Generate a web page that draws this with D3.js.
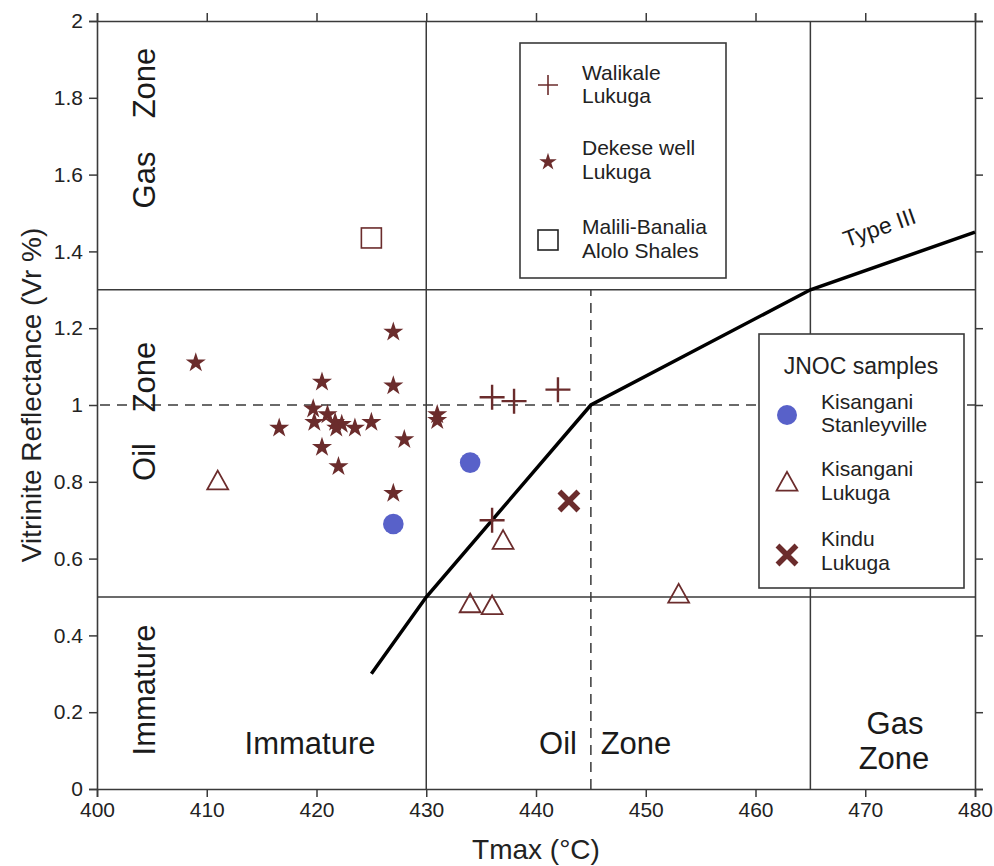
<!DOCTYPE html>
<html><head><meta charset="utf-8">
<script src="https://cdn.jsdelivr.net/npm/d3@7"></script>
<style>
body{margin:0;background:#fff;}
svg{display:block;font-family:"Liberation Sans",Arial,sans-serif;}
</style></head>
<body><svg id="c" width="994" height="866"></svg>
<script>
// ---- data ----
const xTicks = [400,410,420,430,440,450,460,470,480];
const yTicks = [0,0.2,0.4,0.6,0.8,1,1.2,1.4,1.6,1.8,2];

const walikaleT  = [436, 438, 442, 436];
const walikaleVr = [1.02, 1.01, 1.04, 0.70];

const dekeseT  = [409, 427, 420.5, 427, 419.7, 421.0, 416.6, 419.8, 421.7, 422.3, 421.8, 423.5, 425.0, 431, 431, 428, 420.5, 422, 427];
const dekeseVr = [1.11, 1.19, 1.06, 1.05, 0.99, 0.975, 0.94, 0.955, 0.955, 0.95, 0.94, 0.94, 0.955, 0.975, 0.96, 0.91, 0.89, 0.84, 0.77];

const maliliT  = [425];
const maliliVr = [1.435];

const stanleyT  = [427, 434];
const stanleyVr = [0.69, 0.85];

const kisLukugaT  = [411, 437, 434, 436, 453];
const kisLukugaVr = [0.80, 0.645, 0.48, 0.475, 0.505];

const kinduT  = [443];
const kinduVr = [0.75];

const typeIIIT  = [425, 430, 445, 465, 480];
const typeIIIVr = [0.3, 0.5, 1.0, 1.3, 1.45];

// zone boundaries
const solidVT = [430, 465];
const solidHVr = [0.5, 1.3];
const dashVT = 445;
const dashHVr = 1.0;

// ---- layout ----
const W = 994, H = 866;
const m = {l:97, r:19, t:21, b:77};
const svg = d3.select("#c");
const x = d3.scaleLinear().domain([400,480]).range([m.l, W - m.r]);
const y = d3.scaleLinear().domain([0,2]).range([H - m.b, m.t]);

const BROWN = "#6b2c2c", BLUE = "#5861c9", GRID = "#3a3a3a";

// zone lines
const g = svg.append("g");
solidVT.forEach(t => g.append("line").attr("x1",x(t)).attr("x2",x(t)).attr("y1",y(0)).attr("y2",y(2))
  .attr("stroke",GRID).attr("stroke-width",1.5));
solidHVr.forEach(v => g.append("line").attr("x1",x(400)).attr("x2",x(480)).attr("y1",y(v)).attr("y2",y(v))
  .attr("stroke",GRID).attr("stroke-width",1.5));
g.append("line").attr("x1",x(dashVT)).attr("x2",x(dashVT)).attr("y1",y(0)).attr("y2",y(1.3))
  .attr("stroke",GRID).attr("stroke-width",1.5).attr("stroke-dasharray","10,7");
g.append("line").attr("x1",x(400)+3).attr("x2",x(480)).attr("y1",y(dashHVr)).attr("y2",y(dashHVr))
  .attr("stroke",GRID).attr("stroke-width",1.5).attr("stroke-dasharray","10,7");

// axes
const fmt = d => String(+d.toFixed(1));
const axB = svg.append("g").attr("transform",`translate(0,${y(0)})`)
  .call(d3.axisBottom(x).tickValues(xTicks).tickSize(8).tickPadding(5).tickFormat(d3.format("d")));
const axT = svg.append("g").attr("transform",`translate(0,${y(2)})`)
  .call(d3.axisTop(x).tickValues(xTicks).tickSize(8).tickFormat(""));
const axL = svg.append("g").attr("transform",`translate(${x(400)},0)`)
  .call(d3.axisLeft(y).tickValues(yTicks).tickSize(8).tickPadding(6).tickFormat(fmt));
const axR = svg.append("g").attr("transform",`translate(${x(480)},0)`)
  .call(d3.axisRight(y).tickValues(yTicks).tickSize(8).tickFormat(""));
[axB,axT,axL,axR].forEach(a=>{
  a.select(".domain").attr("stroke",GRID).attr("stroke-width",1.6);
  a.selectAll(".tick line").attr("stroke",GRID).attr("stroke-width",1.5);
  a.selectAll("text").attr("font-size",21).attr("fill","#222").attr("font-family","Liberation Sans, Arial, sans-serif");
});

// axis titles
svg.append("text").attr("x",(x(400)+x(480))/2).attr("y",859).attr("text-anchor","middle")
  .attr("font-size",28).attr("fill","#222").text("Tmax (°C)");
svg.append("text").attr("transform",`translate(41,395) rotate(-90)`).attr("text-anchor","middle")
  .attr("font-size",28).attr("fill","#222").text("Vitrinite Reflectance (Vr %)");

// zone labels
const zl = (txt, tx, ty, rot, fs) => svg.append("text")
  .attr("transform",`translate(${tx},${ty}) rotate(${rot})`).attr("text-anchor","middle")
  .attr("font-size",fs).attr("fill","#1a1a1a").text(txt);
zl("Zone",155,83,-90,31); zl("Gas",155,180,-90,31);
zl("Zone",155,377,-90,31); zl("Oil",155,462,-90,31);
zl("Immature",155,690,-90,31);
zl("Immature",310,754,0,31);
zl("Oil",558,754,0,31); zl("Zone",636,754,0,31);
zl("Gas",895,734,0,31); zl("Zone",894,769,0,31);

// Type III curve
const line = d3.line().x(d=>x(d[0])).y(d=>y(d[1]));
svg.append("path").datum(d3.zip(typeIIIT,typeIIIVr)).attr("d",line)
  .attr("fill","none").attr("stroke","#000").attr("stroke-width",3.5).attr("stroke-linejoin","miter");
const ang = Math.atan2(y(1.45)-y(1.3), x(480)-x(465))*180/Math.PI;
svg.append("text").attr("transform",`translate(882,235) rotate(${ang})`).attr("text-anchor","middle")
  .attr("font-size",23).attr("fill","#1a1a1a").text("Type III");

// marker helpers
const plus = (sel, cx, cy, s, sw, col) => sel.append("path")
  .attr("d",`M${cx-s},${cy}H${cx+s}M${cx},${cy-s}V${cy+s}`).attr("stroke",col).attr("stroke-width",sw).attr("fill","none");
const cross = (sel, cx, cy, s, sw, col) => sel.append("path")
  .attr("d",`M${cx-s},${cy-s}L${cx+s},${cy+s}M${cx-s},${cy+s}L${cx+s},${cy-s}`).attr("stroke",col).attr("stroke-width",sw).attr("fill","none");
const star = d3.symbol().type(d3.symbolStar).size(125);
const tri = (cx, cy, s) => `M${cx},${cy-s*0.62}L${cx+s*0.58},${cy+s*0.42}L${cx-s*0.58},${cy+s*0.42}Z`;

const pts = svg.append("g");
d3.zip(stanleyT,stanleyVr).forEach(d=>pts.append("circle").attr("cx",x(d[0])).attr("cy",y(d[1])).attr("r",10.3).attr("fill",BLUE));
d3.zip(kisLukugaT,kisLukugaVr).forEach(d=>pts.append("path").attr("d",tri(x(d[0]),y(d[1]),18)).attr("fill","none").attr("stroke",BROWN).attr("stroke-width",1.8));
d3.zip(maliliT,maliliVr).forEach(d=>pts.append("rect").attr("x",x(d[0])-10).attr("y",y(d[1])-10).attr("width",20).attr("height",20).attr("fill","none").attr("stroke",BROWN).attr("stroke-width",1.6));
d3.zip(dekeseT,dekeseVr).forEach(d=>pts.append("path").attr("d",star).attr("transform",`translate(${x(d[0])},${y(d[1])})`).attr("fill",BROWN));
d3.zip(walikaleT,walikaleVr).forEach(d=>plus(pts,x(d[0]),y(d[1]),12.5,2.4,BROWN));
d3.zip(kinduT,kinduVr).forEach(d=>cross(pts,x(d[0]),y(d[1]),9.5,5.5,BROWN));

// legend 1
const L1 = svg.append("g");
L1.append("rect").attr("x",520).attr("y",43).attr("width",206).attr("height",235).attr("fill","#fff").attr("stroke",GRID).attr("stroke-width",1.6);
const lt = (sel, tx, ty, txt, fs) => sel.append("text").attr("x",tx).attr("y",ty).attr("font-size",fs||21).attr("fill","#222").text(txt);
plus(L1,548,85,10,1.6,BROWN);
lt(L1,582,80,"Walikale"); lt(L1,582,103,"Lukuga");
L1.append("path").attr("d",d3.symbol().type(d3.symbolStar).size(95)).attr("transform","translate(548,162)").attr("fill",BROWN);
lt(L1,582,155,"Dekese well"); lt(L1,582,179,"Lukuga");
L1.append("rect").attr("x",538).attr("y",230).attr("width",20).attr("height",20).attr("fill","none").attr("stroke","#222").attr("stroke-width",1.6);
lt(L1,582,234,"Malili-Banalia"); lt(L1,582,258,"Alolo Shales");

// legend 2
const L2 = svg.append("g");
L2.append("rect").attr("x",759).attr("y",334).attr("width",205).attr("height",254).attr("fill","#fff").attr("stroke",GRID).attr("stroke-width",1.6);
L2.append("text").attr("x",861).attr("y",374).attr("text-anchor","middle").attr("font-size",23).attr("fill","#222").text("JNOC samples");
L2.append("circle").attr("cx",787).attr("cy",415).attr("r",10).attr("fill",BLUE);
lt(L2,821,409,"Kisangani"); lt(L2,821,432,"Stanleyville");
L2.append("path").attr("d",tri(787,483,18)).attr("fill","none").attr("stroke",BROWN).attr("stroke-width",1.8);
lt(L2,821,476,"Kisangani"); lt(L2,821,500,"Lukuga");
cross(L2,787,555,9.5,5.5,BROWN);
lt(L2,821,546,"Kindu"); lt(L2,821,570,"Lukuga");
</script></body></html>
